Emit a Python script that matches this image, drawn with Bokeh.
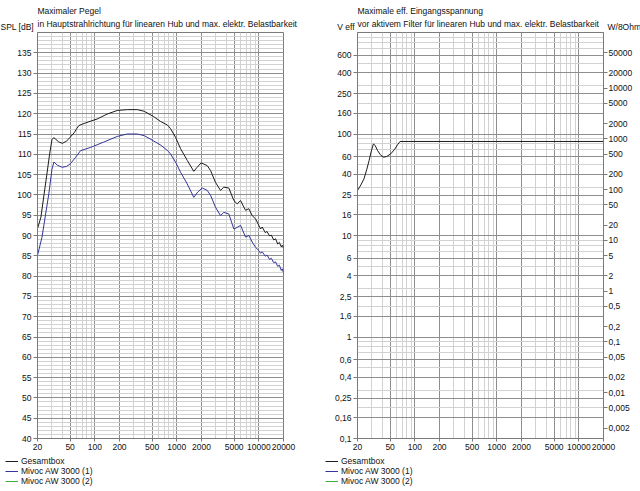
import math
from bokeh.plotting import figure
from bokeh.layouts import row, column
from bokeh.models import (FixedTicker, CustomJSTickFormatter, LogAxis, Legend,
                          LegendItem, Label, Range1d)
from bokeh.embed import file_html
from bokeh.resources import INLINE

FONT = "Liberation Sans"
FS = "8.5px"

# ---------------- data: left chart (max SPL) ----------------
gesamt_freq = [20, 22, 24, 26, 28, 30, 31.5, 33, 36, 40, 45, 50, 56, 60, 64, 74, 90,
               107, 141, 188, 250, 330, 400, 520, 632, 770, 840, 964, 1110, 1340,
               1610, 1770, 1980, 2350, 2580, 2960, 3410, 3740, 4310, 4960, 5450,
               5990, 6890, 7550, 8300, 9120, 10000, 10500, 11000, 12000, 12600,
               13500, 14200, 15200, 16000, 17000, 17800, 18800, 19300, 20000]
gesamt_spl = [91.7, 94.5, 100.0, 105.0, 109.8, 113.6, 114.1, 113.8, 113.1, 112.7,
              113.2, 114.2, 115.3, 116.3, 117.1, 117.6, 118.2, 118.7, 119.9, 120.8,
              121.0, 121.0, 120.6, 119.3, 118.1, 117.2, 116.3, 114.2, 111.4, 108.5,
              105.8, 106.8, 107.9, 107.2, 106.0, 103.1, 101.1, 101.9, 101.7, 98.6,
              97.8, 98.6, 96.2, 96.6, 94.9, 94.1, 92.5, 91.6, 92.1, 90.7, 91.0,
              89.9, 90.1, 88.9, 89.2, 87.9, 88.3, 87.2, 87.6, 86.9]

aw1_freq = [20, 22.7, 25, 27.5, 30, 31.7, 35, 40, 45, 50.5, 58, 67, 89, 128, 188,
            248, 330, 400, 520, 632, 764, 837, 964, 1110, 1340, 1610, 1800, 2040,
            2350, 2580, 2960, 3410, 3740, 4310, 4960, 5450, 5990, 6890, 7550, 8300,
            9120, 10000, 10500, 11000, 12000, 12600, 13500, 14200, 15200, 16000,
            17000, 17800, 18800, 19300, 20000]
aw1_spl = [85.1, 89.6, 95.0, 100.3, 106.3, 108.1, 107.3, 106.8, 107.0, 107.7, 109.2,
           110.9, 111.7, 113.0, 114.4, 115.0, 115.0, 114.6, 113.3, 112.3, 111.0,
           110.1, 108.1, 105.6, 102.7, 99.4, 100.7, 101.7, 101.1, 99.9, 97.0, 94.9,
           95.7, 95.3, 91.6, 92.0, 92.5, 89.6, 90.0, 88.4, 87.1, 86.3, 85.6, 86.0,
           84.9, 85.2, 84.1, 84.4, 83.3, 83.5, 82.4, 82.7, 81.4, 81.8, 80.8]

# second (identical) driver: its curve lies hidden under driver (1)
aw2_freq = aw1_freq
aw2_spl = aw1_spl

# ---------------- data: right chart (max input voltage) ----------------
volt_freq = [20, 22, 24, 26, 27.7, 29.5, 31.3, 33, 35.1, 38, 41.5, 45, 51, 57, 62,
             66, 1000, 20000]
volt_gesamt = [27.8, 31.5, 36.2, 45.0, 54.8, 68.0, 80.0, 76.5, 68.8, 62.5, 59.1,
               59.8, 63.8, 71.0, 79.0, 84.4, 84.4, 84.4]

# ---------------- ticks / labels ----------------
x_ticks = [20, 50, 100, 200, 500, 1000, 2000, 5000, 10000, 20000]
x_labels = ["20", "50", "100", "200", "500", "1000", "2000", "5000", "10000", "20000"]
x_grid_major = [50, 100, 200, 500, 1000, 2000, 5000, 10000]
x_grid_minor = [30, 40, 60, 70, 80, 90, 300, 400, 600, 700, 800, 900,
                3000, 4000, 6000, 7000, 8000, 9000]

spl_ticks = [40, 45, 50, 55, 60, 65, 70, 75, 80, 85, 90, 95, 100, 105, 110, 115,
             120, 125, 130, 135]
spl_labels = [str(t) for t in spl_ticks]
spl_grid_major = spl_ticks + [140]
spl_grid_minor = list(range(41, 140))

v_ticks = [0.1, 0.16, 0.25, 0.4, 0.6, 1, 1.6, 2.5, 4, 6, 10, 16, 25, 40, 60, 100,
           160, 250, 400, 600]
v_labels = ["0,1", "0,16", "0,25", "0,4", "0,6", "1", "1,6", "2,5", "4", "6", "10",
            "16", "25", "40", "60", "100", "160", "250", "400", "600"]
v_grid_minor = [m * d for d in (0.1, 1, 10, 100) for m in range(1, 10)]

pw_values = [50000, 20000, 10000, 5000, 2000, 1000, 500, 200, 100, 50, 20, 10, 5,
             2, 1, 0.5, 0.2, 0.1, 0.05, 0.02, 0.01, 0.005, 0.002]
pw_labels = ["50000", "20000", "10000", "5000", "2000", "1000", "500", "200", "100",
             "50", "20", "10", "5", "2", "1", "0,5", "0,2", "0,1", "0,05", "0,02",
             "0,01", "0,005", "0,002"]
pw_positions = [math.sqrt(8 * w) for w in pw_values]   # volts across 8 ohm

titles_left = ["Maximaler Pegel",
               "in Hauptstrahlrichtung für linearen Hub und max. elektr. Belastbarkeit"]
titles_right = ["Maximale eff. Eingangsspannung",
                "vor aktivem Filter für linearen Hub und max. elektr. Belastbarkeit"]
unit_left = "SPL [dB]"
unit_right_v = "V eff"
unit_right_w = "W/8Ohm"
LEG_LABELS = ["Gesamtbox", "Mivoc AW 3000 (1)", "Mivoc AW 3000 (2)"]

C_BLACK = "#1c1c1c"
C_BLUE = "#34349a"
C_GREEN = "#3fae3f"
GRID_MAJOR = "#8e8e8e"
GRID_MINOR = "#d2d2d2"
AXIS_C = "#7a7a7a"
TXT = "#111111"

JS = """
let best = 0;
for (let i = 0; i < tv.length; i++) {
  if (Math.abs(Math.log(tv[i]) - Math.log(tick)) <
      Math.abs(Math.log(tv[best]) - Math.log(tick))) best = i;
}
return tl[best];
"""


def fmt(tick_vals, tick_labels):
    return CustomJSTickFormatter(args=dict(tv=tick_vals, tl=tick_labels), code=JS)


def style_axis(ax, out=4, standoff=2):
    ax.major_tick_in = 0
    ax.major_tick_out = out
    ax.minor_tick_line_color = None
    ax.axis_line_color = AXIS_C
    ax.major_tick_line_color = AXIS_C
    ax.major_label_text_font = FONT
    ax.major_label_text_font_size = FS
    ax.major_label_text_color = TXT
    ax.major_label_standoff = standoff


def bare_fig(height, x_range, y_range):
    f = figure(width=320, height=height, x_range=x_range, y_range=y_range,
               output_backend="svg", toolbar_location=None, min_border=0,
               x_axis_location=None, y_axis_location=None)
    f.outline_line_color = None
    f.grid.visible = False
    f.background_fill_color = "white"
    f.border_fill_color = "white"
    return f


def text(f, x, y, s, align="left"):
    f.add_layout(Label(x=x, y=y, text=s, text_align=align,
                       text_baseline="middle", text_font=FONT,
                       text_font_size=FS, text_color=TXT))


def header(lines, units):
    # text strip in pixel coordinates, y measured downwards from its top
    h = bare_fig(32, Range1d(0, 320), Range1d(32, 0))
    text(h, 37, 10.3, lines[0])
    text(h, 37, 23.7, lines[1])
    for (x, s, align) in units:
        text(h, x, 26.0, s, align)
    return h


def legend_strip(series):
    # legend keys only: the strip's ranges lie outside the data, so the
    # series themselves are drawn in the chart above, not here
    f = bare_fig(38, Range1d(-2, -1), Range1d(-2, -1))
    rs = [f.line(x, y, line_color=c, line_width=1) for (x, y, c) in series]
    items = [LegendItem(label=l, renderers=[r]) for l, r in zip(LEG_LABELS, rs)]
    lg = Legend(items=items, location=(5, 5), orientation="vertical",
                border_line_color=None, background_fill_alpha=0, padding=0,
                margin=0, spacing=0, glyph_width=13, glyph_height=10,
                label_height=10, label_standoff=3, label_text_font=FONT,
                label_text_font_size=FS, label_text_color=TXT)
    f.add_layout(lg)
    return f


def chart(y_type, y_range):
    p = figure(width=320, height=421, x_axis_type="log", y_axis_type=y_type,
               x_range=(20, 20000), y_range=y_range, output_backend="svg",
               toolbar_location=None, min_border_left=37, min_border_right=37,
               min_border_top=0, min_border_bottom=15)
    p.outline_line_color = AXIS_C
    p.background_fill_color = "white"
    p.border_fill_color = "white"
    p.xgrid.ticker = FixedTicker(ticks=x_grid_major, minor_ticks=x_grid_minor)
    p.xgrid.grid_line_color = GRID_MAJOR
    p.xgrid.minor_grid_line_color = GRID_MINOR
    p.xaxis.ticker = FixedTicker(ticks=x_ticks, minor_ticks=[])
    p.xaxis.formatter = fmt(x_ticks, x_labels)
    style_axis(p.xaxis[0], out=3, standoff=2)
    return p


# ---------------- left chart ----------------
p1 = chart("linear", (40, 140))
p1.ygrid.ticker = FixedTicker(ticks=spl_grid_major, minor_ticks=spl_grid_minor)
p1.ygrid.grid_line_color = GRID_MAJOR
p1.ygrid.minor_grid_line_color = GRID_MINOR
p1.yaxis.ticker = FixedTicker(ticks=spl_ticks, minor_ticks=[])
p1.yaxis.formatter = fmt(spl_ticks, spl_labels)
style_axis(p1.yaxis[0], out=4, standoff=2)
p1.line(gesamt_freq, gesamt_spl, line_color=C_BLACK, line_width=1)
p1.line(aw1_freq, aw1_spl, line_color=C_BLUE, line_width=1)

# ---------------- right chart ----------------
p2 = chart("log", (0.1, 1000))
p2.ygrid.ticker = FixedTicker(ticks=v_ticks, minor_ticks=v_grid_minor)
p2.ygrid.grid_line_color = GRID_MAJOR
p2.ygrid.minor_grid_line_color = GRID_MINOR
p2.yaxis.ticker = FixedTicker(ticks=v_ticks, minor_ticks=[])
p2.yaxis.formatter = fmt(v_ticks, v_labels)
style_axis(p2.yaxis[0], out=4, standoff=2)
pax = LogAxis(ticker=FixedTicker(ticks=pw_positions, minor_ticks=[]),
              formatter=fmt(pw_positions, pw_labels))
style_axis(pax, out=4, standoff=1)
p2.add_layout(pax, "right")
p2.line(volt_freq, volt_gesamt, line_color=C_BLACK, line_width=1)

# ---------------- headers and legends ----------------
h1 = header(titles_left, [(0, unit_left, "left")])
h2 = header(titles_right, [(34, unit_right_v, "right"), (287, unit_right_w, "left")])
l1 = legend_strip([(gesamt_freq, gesamt_spl, C_BLACK), (aw1_freq, aw1_spl, C_BLUE),
                   (aw2_freq, aw2_spl, C_GREEN)])
l2 = legend_strip([(volt_freq, volt_gesamt, C_BLACK), (volt_freq, volt_gesamt, C_BLUE),
                   (volt_freq, volt_gesamt, C_GREEN)])

layout = column(row(h1, h2), row(p1, p2), row(l1, l2))
open("out.html", "w").write(file_html(layout, INLINE))
